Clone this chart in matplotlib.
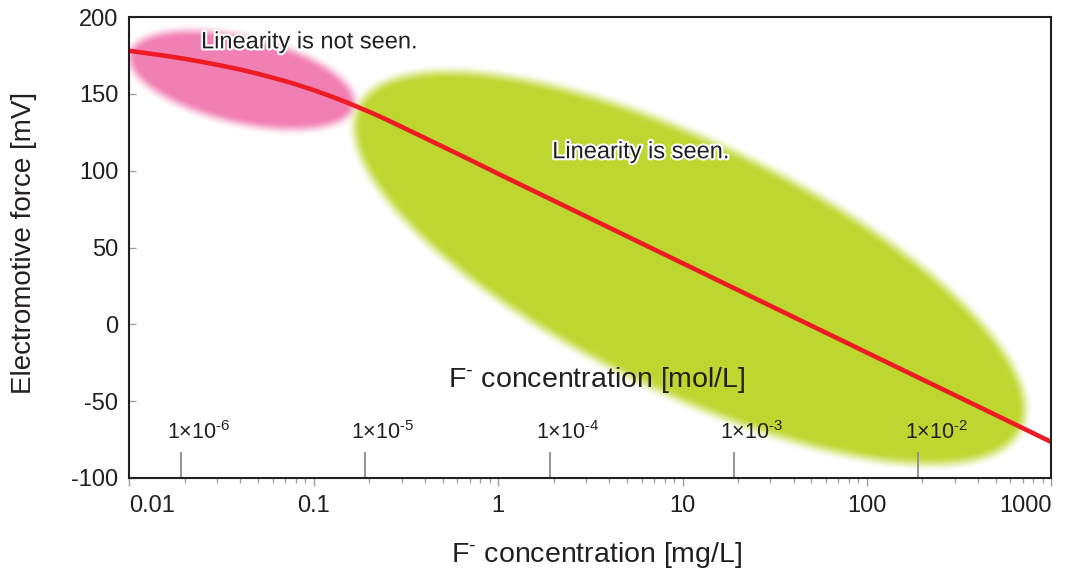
import numpy as np
import matplotlib
matplotlib.use('Agg')
import matplotlib.pyplot as plt
import matplotlib.patheffects as pe
from matplotlib.colors import to_rgb
from matplotlib.ticker import FixedLocator, FixedFormatter, NullFormatter, LogLocator
from matplotlib.transforms import offset_copy

plt.rcParams['font.family'] = ['Liberation Sans', 'DejaVu Sans']
plt.rcParams['mathtext.fontset'] = 'custom'
plt.rcParams['mathtext.rm'] = 'Liberation Sans'
plt.rcParams['mathtext.it'] = 'Liberation Sans:italic'
plt.rcParams['mathtext.bf'] = 'Liberation Sans:bold'
plt.rcParams['axes.unicode_minus'] = False

# calibration curve
conc_mg = [0.01, 0.015, 0.02, 0.025, 0.03, 0.04, 0.05, 0.06, 0.07, 0.08,
           0.1, 0.12, 0.15, 0.2, 0.25, 0.3, 0.4, 0.5, 0.7,
           1, 2, 5, 10, 20, 50, 100, 200, 500, 1000]
emf_mv = [178, 175.1, 172.8, 170.7, 168.9, 165.8, 163.0, 160.5, 158.3, 156.2,
          152.4, 149.0, 144.6, 138.3, 133.1, 128.5, 121.3, 115.7, 107.2,
          98, 80.5, 57.3, 39.8, 22.3, -0.9, -18.4, -35.9, -59.0, -76.6]

x_ticks = [0.01, 0.1, 1, 10, 100, 1000]
x_tick_labels = ['0.01', '0.1', '1', '10', '100', '1000']
y_ticks = [-100, -50, 0, 50, 100, 150, 200]

# second scale in mol/L (F- molar mass 19 g/mol)
mol_ticks = [1e-6, 1e-5, 1e-4, 1e-3, 1e-2]
mol_labels = [r'1×10$^{\text{-6}}$', r'1×10$^{\text{-5}}$', r'1×10$^{\text{-4}}$',
              r'1×10$^{\text{-3}}$', r'1×10$^{\text{-2}}$']
F_MG_PER_MOL = 19000.0

DARK = '#231F20'
GREY = '#8C8C8C'


def soft_ellipse(ax, centre, a, b, angle, colour, soft):
    # blurred ellipse drawn as an RGBA image over the whole axes
    w, h = int(round(ax.bbox.width)), int(round(ax.bbox.height))
    cx, cy = ax.transData.transform(centre) - ax.bbox.p0
    xx, yy = np.meshgrid(np.arange(w) + 0.5, np.arange(h) + 0.5)
    t = np.radians(angle)
    u = (xx - cx) * np.cos(t) + (yy - cy) * np.sin(t)
    v = -(xx - cx) * np.sin(t) + (yy - cy) * np.cos(t)
    f = (u / a) ** 2 + (v / b) ** 2 - 1
    g = 2 * np.hypot(u / a ** 2, v / b ** 2) + 1e-9
    s = np.clip(0.5 - (f / g) / soft, 0, 1)
    rgba = np.zeros((h, w, 4))
    rgba[..., :3] = to_rgb(colour)
    rgba[..., 3] = s * s * (3 - 2 * s)
    ax.imshow(rgba, origin='lower', extent=[0, 1, 0, 1], transform=ax.transAxes,
              aspect='auto', interpolation='bilinear', zorder=1)


fig = plt.figure(figsize=(10.65, 5.71), dpi=100)
ax = fig.add_axes([129.3 / 1065, 1 - 478 / 571, 922 / 1065, 461 / 571])
ax.set_xscale('log')
ax.set_xlim(0.01, 1000)
ax.set_ylim(-100, 200)
ax.autoscale(False)

# shaded regions
soft_ellipse(ax, (0.041, 159), 115, 43, -13, '#F180B2', 14)
soft_ellipse(ax, (10.98, 36.7), 368, 124, -26, '#BED730', 16)

ax.plot(conc_mg, emf_mv, color='#ED1C24', lw=3.3, zorder=3, solid_capstyle='butt')

# mol/L scale inside the plot
mol_pos = [m * F_MG_PER_MOL for m in mol_ticks]
xtrans = ax.get_xaxis_transform()
ax.vlines(mol_pos, 0, 26 / 461, transform=xtrans, color=GREY, lw=1.3, zorder=2)
lab_trans = offset_copy(xtrans, fig=fig, x=18, y=0, units='dots')
for p, lab in zip(mol_pos, mol_labels):
    ax.text(p, 0.085, lab, transform=lab_trans, ha='center', va='baseline',
            fontsize=15.5, color=DARK, zorder=4)
ax.text(0.507, 0.2126, r'F$^{\text{-}}$ concentration [mol/L]', transform=ax.transAxes,
        ha='center', va='center', fontsize=20.5, color=DARK, zorder=4)

outline = [pe.withStroke(linewidth=3, foreground='white')]
ax.text(0.095, 183.5, 'Linearity is not seen.', ha='center', va='center',
        fontsize=17, color=DARK, zorder=4, path_effects=outline)
ax.text(5.96, 112, 'Linearity is seen.', ha='center', va='center',
        fontsize=17, color=DARK, zorder=4, path_effects=outline)

# axes styling
ax.xaxis.set_major_locator(FixedLocator(x_ticks))
ax.xaxis.set_major_formatter(FixedFormatter(x_tick_labels))
ax.xaxis.set_minor_locator(LogLocator(base=10, subs=np.arange(2, 10)))
ax.xaxis.set_minor_formatter(NullFormatter())
ax.set_yticks(y_ticks)
ax.tick_params(axis='x', which='major', direction='out', length=5.5, width=1,
               color='#A0A0A0', labelsize=17, labelcolor=DARK, pad=7)
ax.tick_params(axis='x', which='minor', direction='out', length=3.6, width=1,
               color='#A0A0A0')
ax.tick_params(axis='y', direction='in', length=5, width=1, color='#A0A0A0',
               labelsize=17, labelcolor=DARK, pad=8)
fig.canvas.draw()
xlabels = ax.get_xticklabels()
xlabels[0].set_horizontalalignment('left')
xlabels[0].set_x(0.0087)
xlabels[-1].set_horizontalalignment('right')
for sp in ax.spines.values():
    sp.set_color(DARK)
    sp.set_linewidth(1.5)
    sp.set_zorder(5)

ax.set_xlabel(r'F$^{\text{-}}$ concentration [mg/L]', fontsize=20.5, color=DARK)
ax.set_ylabel('Electromotive force [mV]', fontsize=20, color=DARK)
ax.xaxis.set_label_coords(0.507, -0.134)
ax.yaxis.set_label_coords(-0.100, 0.51)

fig.savefig('out.png', dpi=100)
